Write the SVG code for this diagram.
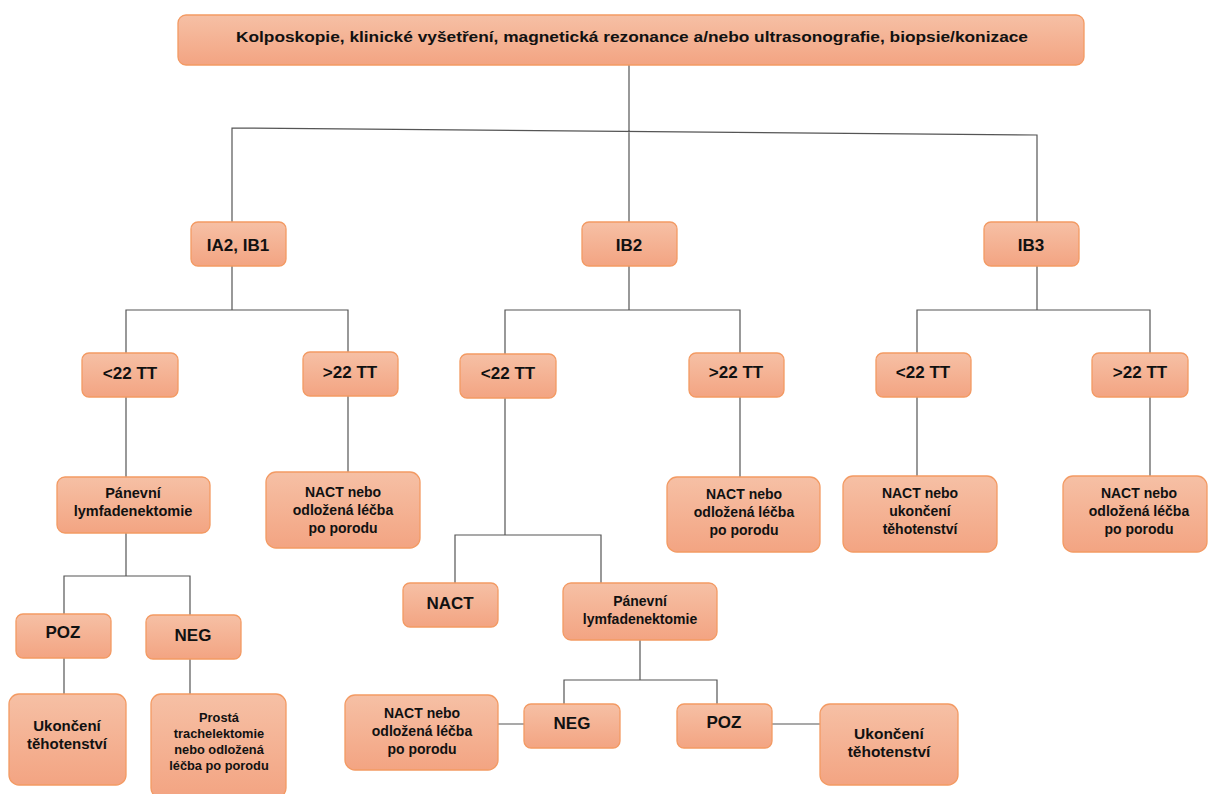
<svg xmlns="http://www.w3.org/2000/svg" width="1208" height="794" viewBox="0 0 1208 794">
<defs>
<linearGradient id="g" x1="0" y1="0" x2="0" y2="1">
<stop offset="0" stop-color="#f6c0a5"/>
<stop offset="1" stop-color="#f3a482"/>
</linearGradient>
</defs>
<style>
.b{fill:url(#g);stroke:#f39a63;stroke-width:1.3}
.t{font-family:"Liberation Sans",Arial,sans-serif;font-weight:bold;fill:#111;text-anchor:middle}
.l{font-size:17px}
.m{font-size:14px}
.s{font-size:12.8px}
.c{fill:none;stroke:#555;stroke-width:1.2}
</style>
<rect width="1208" height="794" fill="#fff"/>
<g id="connectors">
<path class="c" d="M629 65V131M232 222V128L1037 135V222M629 131V222"/>
<path class="c" d="M232 266V310M126 353V310H348V352M126 397V477M126 533V576M64 614V576H190V615M64 658V694M190 659V694M348 396V472"/>
<path class="c" d="M629 266V310M505 354V310H740V353M505 398V535M455 583V535H601V583M640 640V680M564 704V680H717V704M498 724H524M772 724H820M740 397V477"/>
<path class="c" d="M1037 266V310M917 353V310H1150V353M917 397V476M1150 397V476"/>
</g>
<g id="n-top"><rect class="b" x="178" y="15" width="906" height="50" rx="8"/><text class="t" x="632" y="42" font-size="15" textLength="792" lengthAdjust="spacingAndGlyphs">Kolposkopie, klinické vyšetření, magnetická rezonance a/nebo ultrasonografie, biopsie/konizace</text></g>
<g id="n-ia2"><rect class="b" x="191" y="222" width="95" height="44" rx="7"/><text class="t l" x="238" y="251">IA2, IB1</text></g>
<g id="n-ib2"><rect class="b" x="582" y="222" width="95" height="44" rx="7"/><text class="t l" x="629" y="251">IB2</text></g>
<g id="n-ib3"><rect class="b" x="984" y="222" width="95" height="44" rx="7"/><text class="t l" x="1031" y="251">IB3</text></g>
<g id="n-a-lt"><rect class="b" x="82" y="353" width="96" height="44" rx="7"/><text class="t l" x="130" y="379">&lt;22 TT</text></g>
<g id="n-a-gt"><rect class="b" x="303" y="352" width="95" height="44" rx="7"/><text class="t l" x="350" y="378">&gt;22 TT</text></g>
<g id="n-a-pl"><rect class="b" x="57" y="477" width="153" height="56" rx="8"/><text class="t" x="133" y="498" font-size="14.5">Pánevní</text><text class="t" x="133" y="516" font-size="14.5">lymfadenektomie</text></g>
<g id="n-a-poz"><rect class="b" x="16" y="614" width="95" height="44" rx="7"/><text class="t l" x="63" y="638">POZ</text></g>
<g id="n-a-neg"><rect class="b" x="146" y="615" width="95" height="44" rx="7"/><text class="t l" x="193" y="641">NEG</text></g>
<g id="n-a-uk"><rect class="b" x="9" y="694" width="117" height="91" rx="10"/><text class="t" x="67" y="731" font-size="15">Ukončení</text><text class="t" x="67" y="749" font-size="15">těhotenství</text></g>
<g id="n-a-pr"><rect class="b" x="151" y="694" width="135" height="104" rx="10"/><text class="t s" x="219" y="722">Prostá</text><text class="t s" x="219" y="738">trachelektomie</text><text class="t s" x="219" y="754">nebo odložená</text><text class="t s" x="219" y="770">léčba po porodu</text></g>
<g id="n-a-nact"><rect class="b" x="266" y="472" width="154" height="76" rx="10"/><text class="t m" x="343" y="497">NACT nebo</text><text class="t m" x="343" y="515">odložená léčba</text><text class="t m" x="343" y="533">po porodu</text></g>
<g id="n-b-lt"><rect class="b" x="460" y="354" width="96" height="44" rx="7"/><text class="t l" x="508" y="379">&lt;22 TT</text></g>
<g id="n-b-gt"><rect class="b" x="689" y="353" width="95" height="44" rx="7"/><text class="t l" x="736" y="378">&gt;22 TT</text></g>
<g id="n-b-nact1"><rect class="b" x="403" y="583" width="95" height="44" rx="7"/><text class="t l" x="450" y="609">NACT</text></g>
<g id="n-b-pl"><rect class="b" x="563" y="583" width="154" height="57" rx="8"/><text class="t m" x="640" y="606">Pánevní</text><text class="t m" x="640" y="624">lymfadenektomie</text></g>
<g id="n-b-neg"><rect class="b" x="524" y="704" width="96" height="44" rx="7"/><text class="t l" x="572" y="729">NEG</text></g>
<g id="n-b-poz"><rect class="b" x="677" y="704" width="95" height="44" rx="7"/><text class="t l" x="724" y="728">POZ</text></g>
<g id="n-b-nact2"><rect class="b" x="345" y="695" width="153" height="75" rx="10"/><text class="t m" x="422" y="718">NACT nebo</text><text class="t m" x="422" y="736">odložená léčba</text><text class="t m" x="422" y="754">po porodu</text></g>
<g id="n-b-uk"><rect class="b" x="820" y="704" width="138" height="81" rx="10"/><text class="t" x="889" y="739" font-size="15.5">Ukončení</text><text class="t" x="889" y="757" font-size="15.5">těhotenství</text></g>
<g id="n-b-nact3"><rect class="b" x="667" y="477" width="153" height="75" rx="10"/><text class="t m" x="744" y="499">NACT nebo</text><text class="t m" x="744" y="517">odložená léčba</text><text class="t m" x="744" y="535">po porodu</text></g>
<g id="n-c-lt"><rect class="b" x="876" y="353" width="95" height="44" rx="7"/><text class="t l" x="923" y="378">&lt;22 TT</text></g>
<g id="n-c-gt"><rect class="b" x="1092" y="353" width="96" height="44" rx="7"/><text class="t l" x="1140" y="378">&gt;22 TT</text></g>
<g id="n-c-nact1"><rect class="b" x="843" y="476" width="154" height="76" rx="10"/><text class="t m" x="920" y="498">NACT nebo</text><text class="t m" x="920" y="516">ukončení</text><text class="t m" x="920" y="534">těhotenství</text></g>
<g id="n-c-nact2"><rect class="b" x="1063" y="476" width="144" height="76" rx="10"/><text class="t m" x="1139" y="498">NACT nebo</text><text class="t m" x="1139" y="516">odložená léčba</text><text class="t m" x="1139" y="534">po porodu</text></g>
</svg>
